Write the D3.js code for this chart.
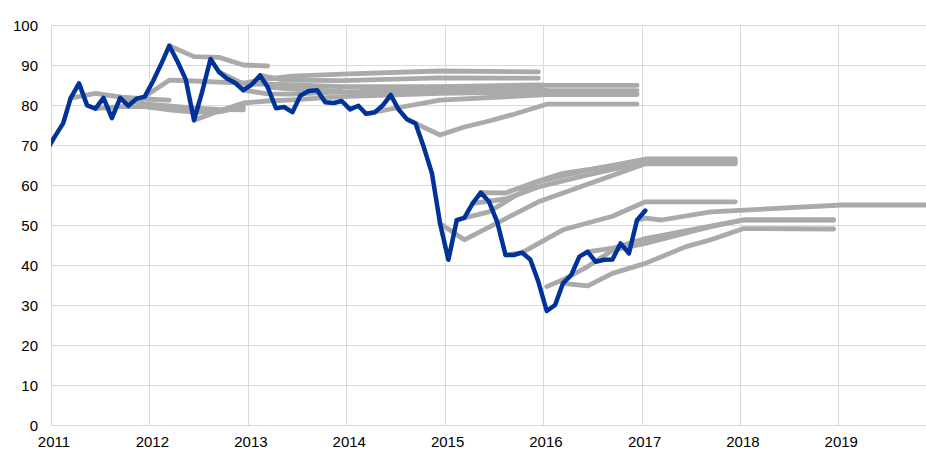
<!DOCTYPE html>
<html>
<head>
<meta charset="utf-8">
<script src="https://cdn.jsdelivr.net/npm/d3@7"></script>
<style>
  body { margin: 0; background: #fff; }
  svg { display: block; font-family: "Liberation Sans", Arial, sans-serif; }
</style>
</head>
<body>
<svg id="chart"></svg>
<script>
// monthly spot price, first value is Dec 2010
var spotStart = "2010-12";
var spot = [68.5,
  72.1, 75.4, 81.7, 85.4, 79.9, 79.1, 81.8, 76.7, 81.8, 79.8, 81.6, 82.1,
  86.0, 90.4, 94.8, 90.8, 86.4, 76.2, 83.3, 91.5, 88.3, 86.6, 85.5, 83.7,
  85.1, 87.4, 84.5, 79.2, 79.5, 78.2, 82.4, 83.5, 83.7, 80.7, 80.5, 81.0,
  78.9, 79.8, 77.8, 78.1, 79.8, 82.5, 78.8, 76.4, 75.4, 69.6, 62.9, 50.4,
  41.3, 51.2, 51.8, 55.4, 58.1, 55.8, 50.8, 42.5, 42.5, 43.1, 41.4, 35.8,
  28.5, 30.0, 35.4, 37.5, 42.1, 43.3, 40.8, 41.3, 41.4, 45.4, 42.9, 51.2,
  53.6];

// futures curves [month, value]
var fut11a = [["2011-03",81.7],["2011-06",82.9],["2011-09",82.0],["2011-12",81.5],["2012-03",81.2]];
var fut11b = [["2011-06",79.1],["2011-09",79.6],["2011-12",79.6],["2012-03",78.8],["2012-06",78.2],["2012-09",78.3],["2012-12",79.5]];
var fut11c = [["2011-09",81.8],["2011-12",80.3],["2012-03",79.8],["2012-06",79.2],["2012-09",78.9],["2012-12",78.8]];
var fut11d = [["2011-12",82.1],["2012-03",86.2],["2012-06",86.0],["2012-09",85.7],["2012-12",85.5],["2013-03",86.5],["2013-06",87.2],["2013-12",87.7],["2014-12",88.5],["2015-12",88.3]];
var fut12a = [["2012-03",94.8],["2012-06",92.1],["2012-09",91.9],["2012-12",90.0],["2013-03",89.75]];
var fut12b = [["2012-06",76.2],["2012-09",78.5],["2012-12",80.5],["2013-03",81.0],["2013-06",81.3],["2013-12",82.1],["2014-12",82.9],["2015-12",83.3],["2016-01",82.8],["2016-12",82.8]];
var fut12c = [["2012-09",88.3],["2012-12",85.3],["2013-03",85.2],["2013-06",85.0],["2013-12",84.6],["2014-12",84.6],["2015-12",85.0],["2016-01",84.9],["2016-12",84.9]];
var fut12d = [["2012-12",83.7],["2013-03",82.8],["2013-06",82.7],["2013-12",83.3],["2014-12",83.75],["2015-12",84.2],["2016-01",83.6],["2016-12",83.6]];
var fut13a = [["2013-02",87.4],["2013-05",86.2],["2013-12",86.1],["2014-12",86.8],["2015-12",86.7]];
var fut13b = [["2013-03",84.5],["2013-06",84.0],["2013-09",83.7],["2013-12",83.4]];
var fut14a = [["2014-03",77.8],["2014-06",79.0],["2014-12",81.2],["2015-12",82.5],["2016-01",82.6],["2016-12",82.6]];
var fut14b = [["2014-09",75.4],["2014-12",72.5],["2015-03",74.5],["2015-06",76.0],["2015-09",77.7],["2016-01",80.2],["2016-12",80.2]];
var fut14c = [["2014-12",50.4],["2015-03",46.3],["2015-12",55.8],["2017-01",65.3],["2017-12",65.3]];
var fut15a = [["2015-02",51.2],["2015-03",51.8],["2015-06",53.3],["2015-12",60.8],["2016-06",63.7],["2017-01",66.5],["2017-12",66.5]];
var fut15b = [["2015-05",58.1],["2015-08",58.0],["2015-12",61.0],["2016-03",62.9],["2017-01",66.0],["2017-12",66.0]];
var fut15c = [["2015-04",55.4],["2015-08",56.5],["2015-12",59.5],["2016-06",62.5],["2017-01",65.7],["2017-12",65.7]];
var fut15d = [["2015-08",42.5],["2015-10",43.1],["2016-03",48.8],["2016-09",52.2],["2017-01",55.8],["2017-12",55.8]];
var fut15e = [["2016-01",34.6],["2016-03",36.3],["2016-06",39.6],["2016-09",43.7],["2017-01",45.4],["2017-06",48.0],["2017-09",49.6],["2018-01",51.25],["2018-12",51.25]];
var fut16a = [["2016-03",35.4],["2016-06",34.8],["2016-09",37.9],["2017-01",40.4],["2017-06",44.6],["2017-09",46.3],["2018-01",49.1],["2018-12",49.0]];
var fut16b = [["2016-06",43.3],["2016-09",44.2],["2017-01",46.6],["2017-09",49.7],["2018-01",51.3],["2018-12",51.3]];
var fut16c = [["2016-12",51.2],["2017-01",51.7],["2017-03",51.25],["2017-09",53.3],["2019-01",55.0],["2019-12",55.0]];

var futures = [fut11a, fut11b, fut11c, fut11d, fut12a, fut12b, fut12c, fut12d,
  fut13a, fut13b, fut14a, fut14b, fut14c, fut15a, fut15b, fut15c, fut15d,
  fut15e, fut16a, fut16b, fut16c];

var yTicks = [0, 10, 20, 30, 40, 50, 60, 70, 80, 90, 100];
var xYears = [2011, 2012, 2013, 2014, 2015, 2016, 2017, 2018, 2019];

(function() {

    var width = 926,
        height = 449,
        plotLeft = 51,
        plotRight = 926,
        plotTop = 25,
        plotBottom = 425;

    function midMonth(s) {
        var p = s.split("-");
        return new Date(+p[0], +p[1] - 1, 15);
    }

    var svg = d3.select("#chart")
        .attr("width", width)
        .attr("height", height);

    var x = d3.scaleTime()
        .domain([new Date(2011, 0, 1), new Date(2020, 0, 1)])
        .range([plotLeft, plotLeft + 9 * 98.4]);

    var y = d3.scaleLinear()
        .domain([0, 100])
        .range([plotBottom, plotTop]);

    svg.append("defs").append("clipPath")
        .attr("id", "plot")
        .append("rect")
        .attr("x", plotLeft).attr("y", 0)
        .attr("width", plotRight - plotLeft).attr("height", height);

    // grid
    svg.append("g")
        .selectAll("line")
        .data(yTicks)
        .enter().append("line")
        .attr("x1", plotLeft).attr("x2", plotRight)
        .attr("y1", function(d) { return Math.round(y(d)) + 0.5; })
        .attr("y2", function(d) { return Math.round(y(d)) + 0.5; })
        .style("stroke", "#d9d9d9")
        .style("stroke-width", 1);

    svg.append("g")
        .selectAll("line")
        .data(xYears)
        .enter().append("line")
        .attr("x1", function(d) { return Math.round(x(new Date(d, 0, 1))) + 0.5; })
        .attr("x2", function(d) { return Math.round(x(new Date(d, 0, 1))) + 0.5; })
        .attr("y1", plotTop).attr("y2", plotBottom)
        .style("stroke", "#d9d9d9")
        .style("stroke-width", 1);

    // labels
    svg.append("g")
        .selectAll("text")
        .data(yTicks)
        .enter().append("text")
        .attr("x", 38)
        .attr("y", function(d) { return y(d) + 5.5; })
        .attr("text-anchor", "end")
        .style("font-size", "15px")
        .style("fill", "#000")
        .text(function(d) { return d; });

    svg.append("g")
        .selectAll("text")
        .data(xYears)
        .enter().append("text")
        .attr("x", function(d) { return x(new Date(d, 0, 1)) + 3; })
        .attr("y", 447)
        .attr("text-anchor", "middle")
        .style("font-size", "15px")
        .style("fill", "#000")
        .text(function(d) { return d; });

    var line = d3.line()
        .x(function(d) { return x(d[0]); })
        .y(function(d) { return y(d[1]); });

    var marks = svg.append("g").attr("clip-path", "url(#plot)");

    marks.selectAll("path.fut")
        .data(futures)
        .enter().append("path")
        .attr("class", "fut")
        .attr("d", function(c) {
            return line(c.map(function(p) { return [midMonth(p[0]), p[1]]; }));
        })
        .style("fill", "none")
        .style("stroke", "#aaaaaa")
        .style("stroke-width", 4.8)
        .style("stroke-linecap", "round")
        .style("stroke-linejoin", "round");

    var start = midMonth(spotStart);
    var spotPoints = spot.map(function(v, i) {
        return [new Date(start.getFullYear(), start.getMonth() + i, 15), v];
    });

    marks.append("path")
        .attr("d", line(spotPoints))
        .style("fill", "none")
        .style("stroke", "#003399")
        .style("stroke-width", 4.5)
        .style("stroke-linecap", "round")
        .style("stroke-linejoin", "round");
})();
</script>
</body>
</html>
